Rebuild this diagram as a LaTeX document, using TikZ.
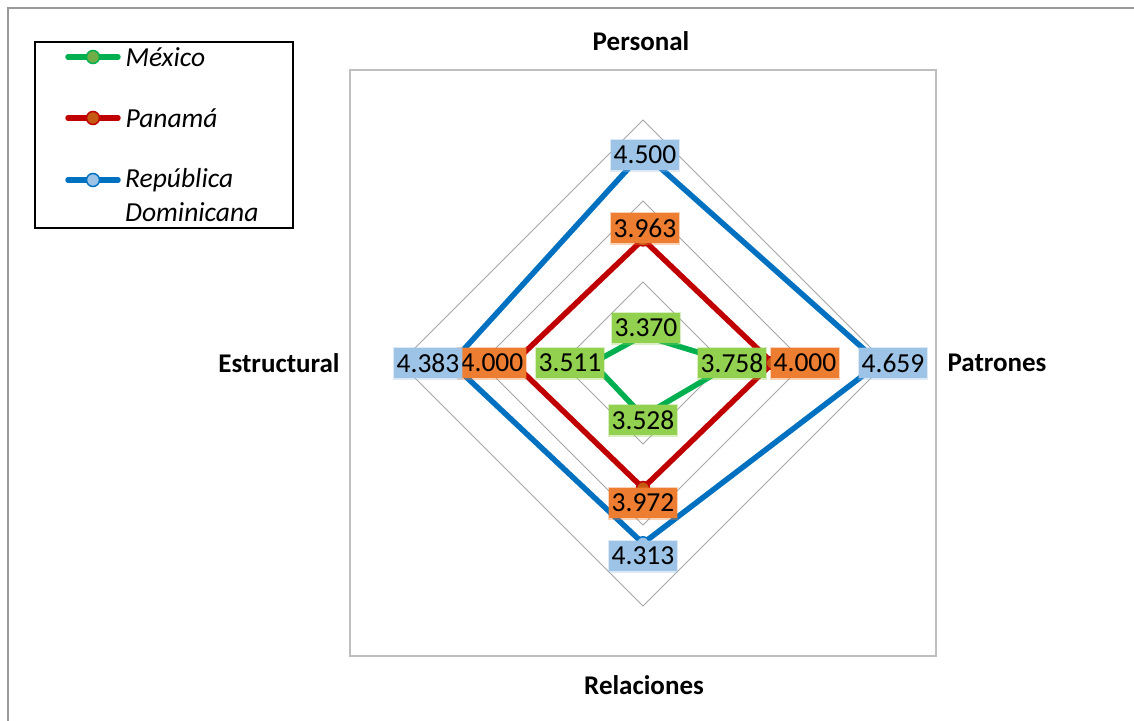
\documentclass[tikz,border=0pt]{standalone}
\usepackage{fontspec}
\setmainfont{Carlito}
\definecolor{mxline}{HTML}{00B050}
\definecolor{mxmark}{HTML}{70AD47}
\definecolor{mxlab}{HTML}{92D050}
\definecolor{pnline}{HTML}{C00000}
\definecolor{pnmark}{HTML}{C65911}
\definecolor{pnlab}{HTML}{ED7D31}
\definecolor{rdline}{HTML}{0070C0}
\definecolor{rdmark}{HTML}{9DC3E6}
\definecolor{rdlab}{HTML}{9DC3E6}
\definecolor{gridc}{HTML}{A6A6A6}
\definecolor{framec}{HTML}{BFBFBF}
\definecolor{outerc}{HTML}{999999}
\begin{document}
\begin{tikzpicture}[x=1pt,y=-1pt,
  txt/.style={font=\fontsize{27.5}{31}\selectfont, text=black},
  axlab/.style={txt, font=\fontsize{27}{31}\selectfont\bfseries},
  lab/.style={txt, inner xsep=2.5pt, inner ysep=0pt, minimum height=30pt, line width=3pt, draw opacity=0.35},
  mxlabel/.style={lab, fill=mxlab, draw=mxlab},
  pnlabel/.style={lab, fill=pnlab, draw=pnlab},
  rdlabel/.style={lab, fill=rdlab, draw=rdlab},
  series/.style={line width=5.5pt, line join=round},
  gridline/.style={draw=gridc, line width=1pt},
  mk/.style={circle, inner sep=0pt, minimum size=13pt, line width=1.5pt},
  legline/.style={line width=5.5pt, line cap=round}]
\useasboundingbox (0,0) rectangle (1134,720);
% outer chart border
\draw[outerc, line width=1.5pt] (8,730) -- (8,8) -- (1140,8);
% plot area
\draw[framec, line width=1.5pt] (350,70) rectangle (936,656);
% grid
\coordinate (c) at (643,363);
\foreach \rr in {81,162,243}{
  \draw[gridline] (643,363-\rr) -- (643+\rr,363) -- (643,363+\rr) -- (643-\rr,363) -- cycle;
}
% data points
\coordinate (mxP) at (643,335.5);
\coordinate (mxA) at (733.4,363);
\coordinate (mxR) at (643,416.1);
\coordinate (mxE) at (592.6,363);
\coordinate (pnP) at (643,239.4);
\coordinate (pnA) at (772.6,363);
\coordinate (pnR) at (643,488.1);
\coordinate (pnE) at (513.4,363);
\coordinate (rdP) at (643,152.4);
\coordinate (rdA) at (879.4,363);
\coordinate (rdR) at (643,543.3);
\coordinate (rdE) at (451.4,363);
% series lines
\draw[series, mxline] (mxP) -- (mxA) -- (mxR) -- (mxE) -- cycle;
\draw[series, pnline] (pnP) -- (pnA) -- (pnR) -- (pnE) -- cycle;
\draw[series, rdline] (rdP) -- (rdA) -- (rdR) -- (rdE) -- cycle;
% markers
\foreach \p in {mxP,mxA,mxR,mxE}{\node[mk, draw=mxline, fill=mxmark] at (\p) {};}
\foreach \p in {pnP,pnA,pnR,pnE}{\node[mk, draw=pnline, fill=pnmark] at (\p) {};}
\foreach \p in {rdP,rdA,rdR,rdE}{\node[mk, draw=rdline, fill=rdmark] at (\p) {};}
% data labels
\node[rdlabel] (lrdP) at (645,155) {4.500};
\node[pnlabel] (lpnP) at (645,228) {3.963};
\node[mxlabel] (lmxP) at (646,328) {3.370};
\node[mxlabel] (lmxA) at (732,363) {3.758};
\node[pnlabel] (lpnA) at (805,363) {4.000};
\node[rdlabel] (lrdA) at (893,363) {4.659};
\node[mxlabel] (lmxR) at (643,420) {3.528};
\node[pnlabel] (lpnR) at (643,503) {3.972};
\node[rdlabel] (lrdR) at (643,556) {4.313};
\node[mxlabel] (lmxE) at (570,363) {3.511};
\node[pnlabel] (lpnE) at (492,363) {4.000};
\node[rdlabel] (lrdE) at (428,363) {4.383};
% axis labels
\node[axlab] (aP) at (641,41) {Personal};
\node[axlab] (aA) at (997,363) {Patrones};
\node[axlab] (aR) at (644,685) {Relaciones};
\node[axlab] (aE) at (279,363) {Estructural};
% legend
\draw[black, line width=2pt] (35,42) rectangle (293,228);
\draw[legline, mxline] (68,57) -- (118,57);
\node[mk, draw=mxline, fill=mxmark] (kmx) at (93,57) {};
\node[txt, anchor=west, font=\fontsize{27.5}{31}\selectfont\itshape] (tmx) at (122,57) {México};
\draw[legline, pnline] (68,118) -- (118,118);
\node[mk, draw=pnline, fill=pnmark] (kpn) at (93,118) {};
\node[txt, anchor=west, font=\fontsize{27.5}{31}\selectfont\itshape] (tpn) at (122,118) {Panamá};
\draw[legline, rdline] (68,180) -- (118,180);
\node[mk, draw=rdline, fill=rdmark] (krd) at (93,180) {};
\node[txt, anchor=north west, align=left, inner sep=0pt, font=\fontsize{27.5}{34}\selectfont\itshape] (trd) at (125,168) {República\\Dominicana};
\end{tikzpicture}
\end{document}
